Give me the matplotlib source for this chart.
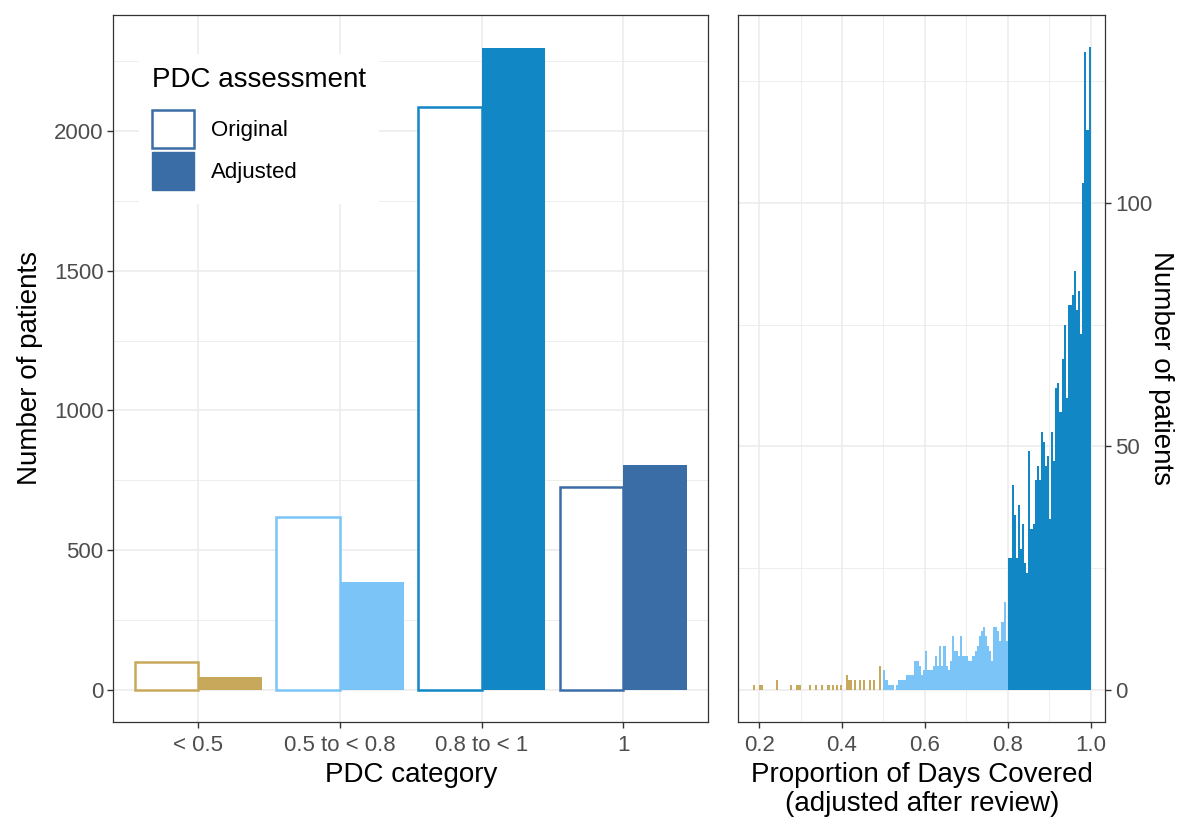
import matplotlib

matplotlib.use("Agg")
import matplotlib.pyplot as plt
import numpy as np
from matplotlib.patches import Patch
from matplotlib.ticker import MultipleLocator, FormatStrFormatter

plt.rcParams["font.family"] = ["Liberation Sans", "DejaVu Sans"]

# --- left panel: patients per PDC category ---
categories = ["< 0.5", "0.5 to < 0.8", "0.8 to < 1", "1"]
original = [100, 617, 2087, 727]
adjusted = [45, 387, 2298, 805]
cat_colors = ["#C8A85A", "#7BC4F7", "#1287C6", "#3A6DA6"]

# --- right panel: histogram of adjusted PDC (binwidth 0.005) ---
binwidth = 0.005
low_start = 0.18
low_counts = [0, 1, 0, 0, 1, 1, 0, 0, 0, 0,
              0, 0, 2, 0, 0, 0, 0, 0, 0, 1,
              0, 0, 1, 1, 0, 0, 0, 0, 1, 0,
              0, 1, 0, 0, 1, 0, 0, 1, 0, 1,
              0, 1, 0, 1, 0, 0, 3, 2, 2, 0,
              2, 0, 2, 0, 2, 0, 0, 2, 0, 2,
              0, 0, 5, 0]
mid_start = 0.5
mid_counts = [4, 2, 1, 1, 1, 0, 1, 2, 2, 2,
              2, 3, 3, 3, 3, 6, 6, 5, 3, 4,
              8, 4, 4, 4, 5, 7, 5, 9, 5, 9,
              5, 4, 6, 11, 8, 8, 7, 11, 7, 7,
              7, 6, 6, 7, 8, 9, 11, 12, 13, 11,
              9, 8, 6, 13, 13, 12, 10, 14, 18, 10]
high_start = 0.8
high_counts = [27, 27, 42, 36, 27, 38, 29, 34, 26, 24,
               49, 33, 34, 43, 46, 43, 53, 51, 46, 48,
               35, 53, 47, 62, 63, 57, 68, 75, 60, 79,
               79, 81, 86, 78, 82, 73, 104, 131, 115, 132]
hist_groups = [(low_start, low_counts, cat_colors[0]),
               (mid_start, mid_counts, cat_colors[1]),
               (high_start, high_counts, cat_colors[2])]

grid_major = "#EBEBEB"
tick_col = "#4D4D4D"
frame_col = "#333333"

fig = plt.figure(figsize=(12, 8.32), dpi=100)
ax1 = fig.add_axes([0.0944, 0.1322, 0.4958, 0.8498])
ax2 = fig.add_axes([0.6153, 0.1322, 0.3056, 0.8498])


def style(ax):
    ax.set_axisbelow(True)
    ax.grid(True, which="major", color=grid_major, linewidth=1.1)
    ax.grid(True, which="minor", color=grid_major, linewidth=0.6)
    for s in ax.spines.values():
        s.set_color(frame_col)
        s.set_linewidth(0.9)
    ax.tick_params(which="major", direction="out", length=4, width=1,
                   color=frame_col, labelcolor=tick_col, labelsize=16, pad=3)
    ax.tick_params(axis="x", which="major", pad=5)
    ax.tick_params(which="minor", length=0)


# left: dodged bars
x = np.arange(len(categories))
w = 0.45
ax1.bar(x - w / 2, original, width=w, facecolor="white",
        edgecolor=cat_colors, linewidth=1.8)
ax1.bar(x + w / 2, adjusted, width=w, color=cat_colors, linewidth=0)
ax1.set_xticks(x)
ax1.set_xticklabels(categories)
ax1.set_xlim(-0.6, 3.6)
ax1.set_ylim(-115, 2415)
ax1.yaxis.set_major_locator(MultipleLocator(500))
ax1.yaxis.set_minor_locator(MultipleLocator(250))
style(ax1)
ax1.set_xlabel("PDC category", fontsize=20, labelpad=5)
ax1.set_ylabel("Number of patients", fontsize=20, labelpad=8)

handles = [Patch(facecolor="white", edgecolor=cat_colors[3], linewidth=1.8, label="Original"),
           Patch(facecolor=cat_colors[3], edgecolor=cat_colors[3], label="Adjusted")]
leg = ax1.legend(handles=handles, title="PDC assessment", loc="upper left",
                 bbox_to_anchor=(0.024, 0.961), fontsize=16, title_fontsize=20,
                 handlelength=1.9, handleheight=2.3, labelspacing=0.15,
                 handletextpad=0.75, borderpad=0.6, frameon=True, fancybox=False,
                 framealpha=1, edgecolor="none", facecolor="white",
                 alignment="left")
leg._legend_box.sep = 12

# right: histogram of adjusted PDC
for start, counts, col in hist_groups:
    edges = start + binwidth * np.arange(len(counts))
    ax2.bar(edges, counts, width=binwidth, align="edge", color=col, linewidth=0)
ax2.set_xlim(0.15, 1.035)
ax2.set_ylim(-6.6, 138.6)
ax2.xaxis.set_major_locator(MultipleLocator(0.2))
ax2.xaxis.set_minor_locator(MultipleLocator(0.1))
ax2.yaxis.set_major_locator(MultipleLocator(50))
ax2.yaxis.set_minor_locator(MultipleLocator(25))
ax2.xaxis.set_major_formatter(FormatStrFormatter("%.1f"))
style(ax2)
ax2.yaxis.tick_right()
ax2.yaxis.set_label_position("right")
ax2.set_xlabel("Proportion of Days Covered\n(adjusted after review)",
               fontsize=20, labelpad=5, linespacing=1.15)
ax2.set_ylabel("Number of patients", fontsize=20, rotation=-90, labelpad=16)

fig.savefig("out.png", dpi=100)
